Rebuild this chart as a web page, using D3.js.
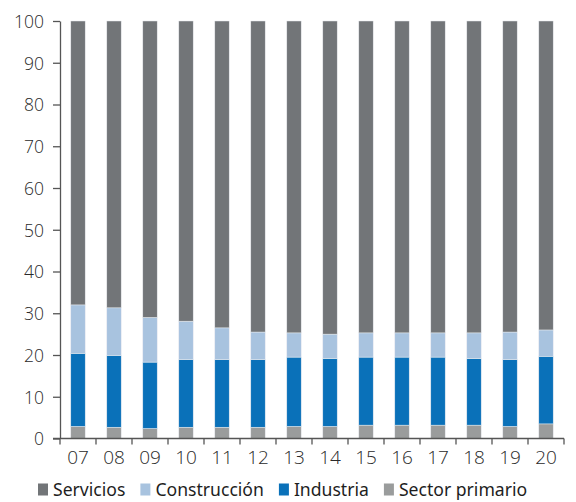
<!DOCTYPE html>
<html><head><meta charset="utf-8">
<script src="https://cdn.jsdelivr.net/npm/d3@7"></script>
<style>
html,body{margin:0;padding:0;background:#fff;}
svg{display:block;}
.axis text{font-family:"Open Sans",sans-serif;font-weight:300;fill:#2a2a2a;}
.legend text{font-family:"Noto Sans",sans-serif;fill:#1e1e1e;}
</style></head>
<body>
<svg id="chart" width="576" height="502"></svg>
<script>
const years = ["07","08","09","10","11","12","13","14","15","16","17","18","19","20"];
const sectorPrimario = [2.9,2.7,2.4,2.7,2.7,2.7,2.9,2.9,3.2,3.2,3.2,3.2,2.9,3.5];
const industria =      [17.5,17.2,15.9,16.2,16.2,16.2,16.6,16.2,16.3,16.3,16.3,15.9,16.0,16.2];
const construccion =   [11.6,11.4,10.7,9.2,7.6,6.6,5.8,5.9,5.8,5.8,5.8,6.2,6.6,6.3];
const seriesNames = ["Servicios","Construcción","Industria","Sector primario"];
const colors = {"Servicios":"#727578","Construcción":"#a8c3df","Industria":"#0a71b9","Sector primario":"#9a9c9c"};
const yTicks = [0,10,20,30,40,50,60,70,80,90,100];

const rows = years.map((y,i)=>({
  year:y,
  "Sector primario":sectorPrimario[i],
  "Industria":industria[i],
  "Construcción":construccion[i],
  "Servicios":+(100-sectorPrimario[i]-industria[i]-construccion[i]).toFixed(1)
}));
const stackKeys = ["Sector primario","Industria","Construcción","Servicios"];
const stacked = d3.stack().keys(stackKeys)(rows);

const svg = d3.select("#chart");
const m = {left:60,right:12,top:21,bottom:63};
const x = d3.scaleBand().domain(years).range([m.left, 564]).paddingInner(0.6).paddingOuter(0.3);
const y = d3.scaleLinear().domain([0,100]).range([438.5, 21]);

svg.append("g").selectAll("g").data(stacked).join("g")
  .attr("fill", d=>colors[d.key])
  .selectAll("rect").data(d=>d).join("rect")
  .attr("x", d=>x(d.data.year))
  .attr("width", x.bandwidth())
  .attr("y", d=>y(d[1]))
  .attr("height", d=>y(d[0])-y(d[1]))
  .attr("stroke","#e8ecef").attr("stroke-width",0.5);

// y axis
const ya = svg.append("g").attr("class","axis").attr("transform",`translate(${m.left},0)`)
  .call(d3.axisLeft(y).tickValues(yTicks).tickSize(7).tickPadding(9).tickSizeOuter(0));
ya.selectAll("text").attr("font-size",17.5).attr("dy","0.36em");
ya.select(".domain").attr("stroke","#555").attr("stroke-width",1.3);
ya.selectAll(".tick line").attr("stroke","#555").attr("stroke-width",1.3);

// x axis
const xa = svg.append("g").attr("class","axis").attr("transform",`translate(0,${y(0)})`)
  .call(d3.axisBottom(x).tickSize(0).tickPadding(12));
xa.selectAll("text").attr("font-size",19).attr("dy","0.71em");
xa.select(".domain").remove();
xa.append("line").attr("x1",53).attr("x2",564).attr("stroke","#555").attr("stroke-width",1.3);
const bounds = d3.range(years.length+1).map(i=>m.left + i*x.step());
xa.selectAll(".bt").data(bounds).join("line").attr("class","bt")
  .attr("x1",d=>d).attr("x2",d=>d).attr("y1",0).attr("y2",6)
  .attr("stroke","#555").attr("stroke-width",1.3);

// legend
const lg = svg.append("g").attr("class","legend").attr("transform","translate(38,490)");
let lx = 0;
seriesNames.forEach(n=>{
  const g = lg.append("g").attr("transform",`translate(${lx},0)`);
  g.append("rect").attr("x",0).attr("y",-6.5).attr("width",10).attr("height",12).attr("fill",colors[n]);
  const t = g.append("text").attr("x",15).attr("y",0).attr("dy","0.35em").attr("font-size",17.6).text(n);
  lx += 15 + t.node().getComputedTextLength() + 15;
});
</script>
</body></html>
